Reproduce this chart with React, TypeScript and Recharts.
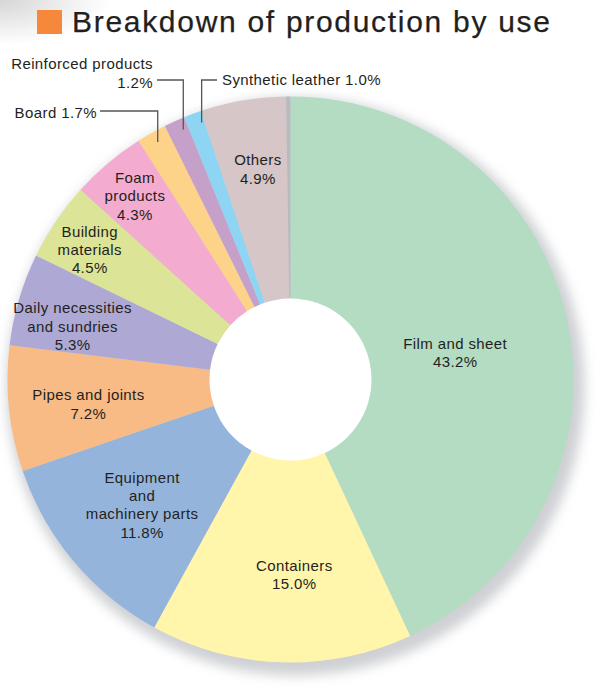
import { Pie, PieChart, Cell } from "recharts"

const categories = [
  "Film and sheet",
  "Containers",
  "Equipment and machinery parts",
  "Pipes and joints",
  "Daily necessities and sundries",
  "Building materials",
  "Foam products",
  "Board",
  "Reinforced products",
  "Synthetic leather",
  "Others",
]
const shares = [43.2, 15.0, 11.8, 7.2, 5.3, 4.5, 4.3, 1.7, 1.2, 1.0, 4.9]
const labelLines = [
  ["Film and sheet", "43.2%"],
  ["Containers", "15.0%"],
  ["Equipment", "and", "machinery parts", "11.8%"],
  ["Pipes and joints", "7.2%"],
  ["Daily necessities", "and sundries", "5.3%"],
  ["Building", "materials", "4.5%"],
  ["Foam", "products", "4.3%"],
  ["Board 1.7%"],
  ["Reinforced products", "1.2%"],
  ["Synthetic leather 1.0%"],
  ["Others", "4.9%"],
]
// thin grey edge that closes the ring at 12 o'clock
const edgeShare = 0.25
const centerLines = ["Production", "in 2021", "(5,680 kt)"]

const colors = [
  "#b3dcc2", "#fff5ab", "#94b4dc", "#f9bb85", "#aea9d4", "#dbe497",
  "#f3accf", "#fdd38a", "#c5a1ca", "#8dd5f3", "#d6c6c7", "#b9babe",
]

const data = [
  ...categories.map((name, i) => ({ name, value: shares[i] })),
  { name: "edge", value: edgeShare },
]

const FONT = '"Liberation Sans", Arial, sans-serif'
const INK = "#231f20"
const CX = 290.5
const CY = 379.5
const R = 283
const HOLE = 81

// radius (fraction of outer radius) and clockwise nudge for in-slice labels
const inside: Record<number, [number, number]> = {
  0: [0.59, 3],
  1: [0.687, -3],
  2: [0.685, 0],
  3: [0.719, -0.8],
  4: [0.793, -2.6],
  5: [0.846, -1],
  6: [0.852, 0],
  10: [0.754, 0.9],
}

// callouts: clockwise nudge, elbow y, line end x, text x, text anchor
const callouts: Record<number, { nudge: number; lineY: number; endX: number; textX: number; anchor: "start" | "end"; textY: number[] }> = {
  7: { nudge: 0.2, lineY: 111, endX: 100, textX: 97, anchor: "end", textY: [112] },
  8: { nudge: 1, lineY: 80, endX: 157, textX: 153, anchor: "end", textY: [63, 82] },
  9: { nudge: 1.2, lineY: 80, endX: 217, textX: 222, anchor: "start", textY: [79] },
}

const renderLabel = (props: any) => {
  const { cx, cy, midAngle, outerRadius, index } = props
  if (index >= labelLines.length) return null
  const lines = labelLines[index]
  const theta = 90 - midAngle
  const polar = (r: number, t: number) => {
    const rad = (t * Math.PI) / 180
    return { x: cx + r * Math.sin(rad), y: cy - r * Math.cos(rad) }
  }
  const c = callouts[index]
  if (c) {
    const a = polar(outerRadius - 11, theta + c.nudge)
    return (
      <g key={`lbl-${index}`}>
        <polyline
          points={`${a.x},${a.y} ${a.x},${c.lineY} ${c.endX},${c.lineY}`}
          fill="none"
          stroke="#555"
          strokeWidth={1.3}
        />
        {lines.map((line, i) => (
          <text
            key={i}
            x={c.textX}
            y={c.textY[i]}
            textAnchor={c.anchor}
            dominantBaseline="central"
            fontFamily={FONT}
            fontSize={15}
            letterSpacing={0.4}
            fill={INK}
          >
            {line}
          </text>
        ))}
      </g>
    )
  }
  const [frac, nudge] = inside[index]
  const p = polar(outerRadius * frac, theta + nudge)
  const lh = 18.3
  const top = p.y - ((lines.length - 1) * lh) / 2
  return (
    <text
      key={`lbl-${index}`}
      x={p.x}
      y={top}
      textAnchor="middle"
      dominantBaseline="central"
      fontFamily={FONT}
      fontSize={15}
      letterSpacing={0.4}
      fill={INK}
    >
      {lines.map((line, i) => (
        <tspan key={i} x={p.x} y={top + i * lh}>
          {line}
        </tspan>
      ))}
    </text>
  )
}

export default function App() {
  return (
    <div
      style={{
        position: "absolute",
        left: 0,
        top: 0,
        width: 605,
        height: 690,
        background:
          "radial-gradient(ellipse 110px 45px at 0 0, #d6d6d6 0%, rgba(255,255,255,0) 100%), #fff",
        fontFamily: FONT,
      }}
    >
      <div style={{ position: "absolute", left: 37, top: 10, width: 25, height: 24, background: "#f5883a" }} />
      <div
        style={{
          position: "absolute",
          left: 72,
          top: 2,
          fontSize: 30,
          lineHeight: "40px",
          letterSpacing: 1.7,
          color: INK,
          whiteSpace: "nowrap",
          WebkitTextStroke: "0.25px #231f20",
        }}
      >
        Breakdown of production by use
      </div>
      <div style={{ position: "absolute", left: 0, top: 0 }}>
        <PieChart width={605} height={690} margin={{ top: 0, right: 0, bottom: 0, left: 0 }}>
          <defs>
            <filter id="pieShadow" x="-20%" y="-20%" width="140%" height="140%">
              <feGaussianBlur stdDeviation={6} />
            </filter>
          </defs>
          <Pie
            data={[{ name: "shadow", value: 1 }]}
            dataKey="value"
            cx={CX + 5}
            cy={CY + 7}
            outerRadius={R + 6}
            startAngle={90}
            endAngle={-270}
            fill="#cfd0d4"
            stroke="none"
            filter="url(#pieShadow)"
            isAnimationActive={false}
          />
          <Pie
            data={[{ name: "hole", value: 1 }]}
            dataKey="value"
            cx={CX}
            cy={CY}
            outerRadius={HOLE + 1}
            startAngle={90}
            endAngle={-270}
            fill="#ffffff"
            stroke="none"
            isAnimationActive={false}
          />
          <Pie
            data={data}
            dataKey="value"
            nameKey="name"
            cx={CX}
            cy={CY}
            innerRadius={HOLE}
            outerRadius={R}
            startAngle={90}
            endAngle={-270}
            stroke="none"
            label={renderLabel}
            labelLine={false}
            isAnimationActive={false}
          >
            {data.map((d, i) => (
              <Cell key={d.name} fill={colors[i]} />
            ))}
          </Pie>
          <text textAnchor="middle" fontFamily={FONT} fill={INK}>
            <tspan x={CX} y={362} dominantBaseline="central" fontSize={22} letterSpacing={0.4}>
              {centerLines[0]}
            </tspan>
            <tspan x={CX} y={386} dominantBaseline="central" fontSize={22} letterSpacing={0.4}>
              {centerLines[1]}
            </tspan>
            <tspan x={CX} y={409} dominantBaseline="central" fontSize={14.5} letterSpacing={1}>
              {centerLines[2]}
            </tspan>
          </text>
        </PieChart>
      </div>
    </div>
  )
}
